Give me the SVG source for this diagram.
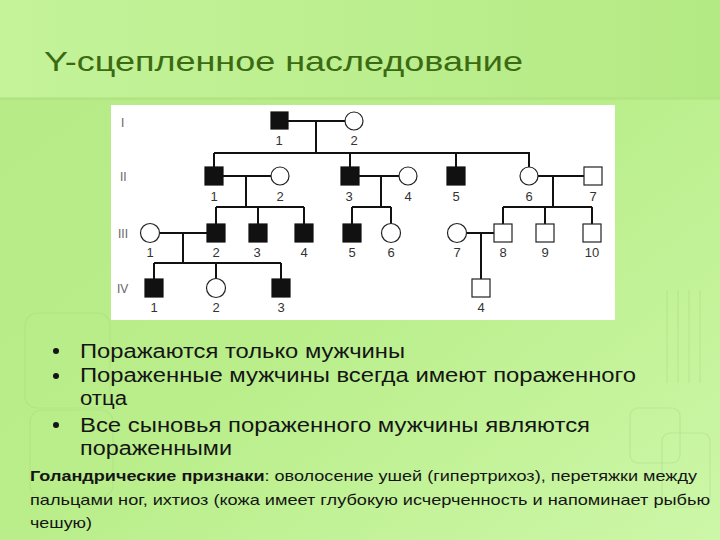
<svg xmlns="http://www.w3.org/2000/svg" width="720" height="540" viewBox="0 0 720 540">
<defs>
<linearGradient id="bg" x1="0" y1="0" x2="1" y2="1">
<stop offset="0" stop-color="#b6ea86"/>
<stop offset="0.5" stop-color="#b9ee8a"/>
<stop offset="1" stop-color="#cdf7a8"/>
</linearGradient>
<linearGradient id="band" x1="0" y1="0" x2="1" y2="0">
<stop offset="0" stop-color="#c4f39a"/>
<stop offset="1" stop-color="#b4ea84"/>
</linearGradient>
<style>
.ln{stroke:#111;stroke-width:2;fill:none}
.m{fill:#fff;stroke:#222;stroke-width:1.2}
.a{fill:#111;stroke:#111;stroke-width:1.2}
.f{fill:#fff;stroke:#222;stroke-width:1.2}
.num{font-family:"Liberation Sans",Arial,sans-serif;font-size:13px;fill:#333;text-anchor:middle}
.gen{font-family:"Liberation Sans",Arial,sans-serif;font-size:12px;fill:#666}
.deco{fill:none;stroke:#a9db7e;stroke-width:1.2;opacity:0.45}
.bt{font-family:"Liberation Sans",Arial,sans-serif;font-size:20px;fill:#151515}
.sm{font-family:"Liberation Sans",Arial,sans-serif;font-size:15px;fill:#151515}
</style>
</defs>
<rect x="0" y="0" width="720" height="540" fill="url(#bg)"/>
<rect x="0" y="0" width="720" height="98" fill="url(#band)"/>
<rect x="0" y="97" width="720" height="3" fill="#acde7c" opacity="0.5"/>
<g id="decor">
<rect class="deco" x="25" y="313" width="85" height="95" rx="12"/>
<rect class="deco" x="30" y="410" width="83" height="87" rx="12"/>
<rect class="deco" x="630" y="408" width="50" height="55" rx="8"/>
<rect class="deco" x="662" y="433" width="48" height="74" rx="8"/>
<path class="deco" d="M667 290V383M678 290V383M689 290V383M700 290V383" opacity="0.2"/>
</g>
<text x="44" y="71" font-family="'Liberation Sans',Arial,sans-serif" font-size="28" fill="#3b6a12" textLength="479" lengthAdjust="spacingAndGlyphs">Y-сцепленное наследование</text>
<rect x="111" y="105" width="504" height="215" fill="#fff"/>
<g id="generations">
<text class="gen" x="121" y="127">I</text>
<text class="gen" x="120" y="181">II</text>
<text class="gen" x="118" y="238">III</text>
<text class="gen" x="117" y="293">IV</text>
</g>
<g id="connectors">
<path class="ln" d="M288 121H345M316 121V153M214 153H530M214 153V167M350 153V167M456 153V167M529 153V167"/>
<path class="ln" d="M223 176H271M246 176V207M216 207H304M216 207V224M258 207V224M304 207V224"/>
<path class="ln" d="M359 176H399M381 176V207M352 207H391M352 207V224M391 207V224"/>
<path class="ln" d="M538 176H584M553 176V207M503 207H592M503 207V224M545 207V224M592 207V224"/>
<path class="ln" d="M160 233H207M183 233V263M154 263H281M154 263V279M216 263V279M281 263V279"/>
<path class="ln" d="M467 233H494M481 233V279"/>
</g>
<g id="I-1"><rect class="a" x="271" y="112" width="17" height="17"/><text class="num" x="279" y="145">1</text></g>
<g id="I-2"><circle class="f" cx="354" cy="121" r="9"/><text class="num" x="354" y="145">2</text></g>
<g id="II-1"><rect class="a" x="205" y="167" width="18" height="18"/><text class="num" x="214" y="201">1</text></g>
<g id="II-2"><circle class="f" cx="280" cy="176" r="9"/><text class="num" x="280" y="201">2</text></g>
<g id="II-3"><rect class="a" x="341" y="167" width="18" height="18"/><text class="num" x="349" y="201">3</text></g>
<g id="II-4"><circle class="f" cx="408" cy="176" r="9"/><text class="num" x="408" y="201">4</text></g>
<g id="II-5"><rect class="a" x="447" y="167" width="18" height="18"/><text class="num" x="456" y="201">5</text></g>
<g id="II-6"><circle class="f" cx="529" cy="176" r="9"/><text class="num" x="529" y="201">6</text></g>
<g id="II-7"><rect class="m" x="584" y="167" width="18" height="18"/><text class="num" x="593" y="201">7</text></g>
<g id="III-1"><circle class="f" cx="150" cy="233" r="9.5"/><text class="num" x="150" y="257">1</text></g>
<g id="III-2"><rect class="a" x="207" y="224" width="18" height="18"/><text class="num" x="216" y="257">2</text></g>
<g id="III-3"><rect class="a" x="249" y="224" width="18" height="18"/><text class="num" x="257" y="257">3</text></g>
<g id="III-4"><rect class="a" x="295" y="224" width="18" height="18"/><text class="num" x="304" y="257">4</text></g>
<g id="III-5"><rect class="a" x="343" y="224" width="18" height="18"/><text class="num" x="352" y="257">5</text></g>
<g id="III-6"><circle class="f" cx="391" cy="233" r="9.5"/><text class="num" x="391" y="257">6</text></g>
<g id="III-7"><circle class="f" cx="457" cy="233" r="9.5"/><text class="num" x="457" y="257">7</text></g>
<g id="III-8"><rect class="m" x="494" y="224" width="18" height="18"/><text class="num" x="503" y="257">8</text></g>
<g id="III-9"><rect class="m" x="536" y="224" width="18" height="18"/><text class="num" x="545" y="257">9</text></g>
<g id="III-10"><rect class="m" x="583" y="224" width="18" height="18"/><text class="num" x="592" y="257">10</text></g>
<g id="IV-1"><rect class="a" x="145" y="279" width="18" height="18"/><text class="num" x="154" y="312">1</text></g>
<g id="IV-2"><circle class="f" cx="216" cy="288" r="9.5"/><text class="num" x="216" y="312">2</text></g>
<g id="IV-3"><rect class="a" x="272" y="279" width="18" height="18"/><text class="num" x="281" y="312">3</text></g>
<g id="IV-4"><rect class="m" x="472" y="279" width="18" height="18"/><text class="num" x="481" y="312">4</text></g>
<g id="bullets">
<circle cx="56" cy="351" r="3" fill="#151515"/>
<circle cx="56" cy="376" r="3" fill="#151515"/>
<circle cx="56" cy="425" r="3" fill="#151515"/>
<text class="bt" x="80" y="358" textLength="325" lengthAdjust="spacingAndGlyphs">Поражаются только мужчины</text>
<text class="bt" x="80" y="382" textLength="556" lengthAdjust="spacingAndGlyphs">Пораженные мужчины всегда имеют пораженного</text>
<text class="bt" x="80" y="405" textLength="47" lengthAdjust="spacingAndGlyphs">отца</text>
<text class="bt" x="80" y="432" textLength="510" lengthAdjust="spacingAndGlyphs">Все сыновья пораженного мужчины являются</text>
<text class="bt" x="80" y="455" textLength="152" lengthAdjust="spacingAndGlyphs">пораженными</text>
</g>
<g id="note">
<text class="sm" x="30" y="481" textLength="667" lengthAdjust="spacingAndGlyphs"><tspan font-weight="bold">Голандрические признаки</tspan>: оволосение ушей (гипертрихоз), перетяжки между</text>
<text class="sm" x="30" y="505" textLength="680" lengthAdjust="spacingAndGlyphs">пальцами ног, ихтиоз (кожа имеет глубокую исчерченность и напоминает рыбью</text>
<text class="sm" x="30" y="528" textLength="62" lengthAdjust="spacingAndGlyphs">чешую)</text>
</g>
</svg>
